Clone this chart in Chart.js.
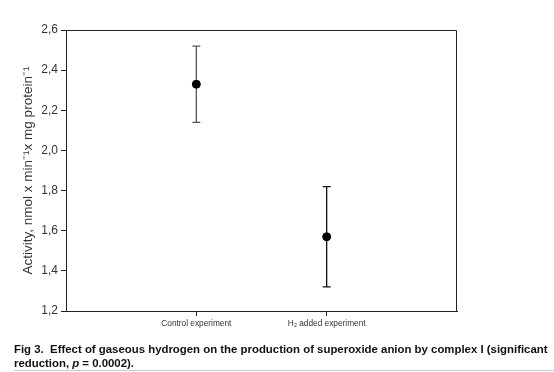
<!DOCTYPE html>
<html>
<head>
<meta charset="utf-8">
<script src="https://cdn.jsdelivr.net/npm/chart.js@4.4.1/dist/chart.umd.min.js"></script>
<style>
  html, body { margin: 0; padding: 0; background: #fff; }
  #wrap { position: relative; width: 554px; height: 372px; overflow: hidden; }
  #chart { position: absolute; left: 0; top: 0; }
  #caption {
    position: absolute; left: 14px; top: 342px; width: 540px; height: 28px;
    font: bold 11.4px Arial, "Liberation Sans", sans-serif; line-height: 14px;
    color: #111; white-space: nowrap; border-bottom: 1px solid #c8c8c8;
  }
</style>
</head>
<body>
<div id="wrap">
  <canvas id="chart" width="554" height="372"></canvas>
  <div id="caption">Fig 3.&nbsp; Effect of gaseous hydrogen on the production of superoxide anion by complex I (significant<br>reduction, <i>p</i> = 0.0002).</div>
</div>
<script>
// dados
const categories = ['Control experiment', 'H\u2082 added experiment'];
const means = [2.33, 1.57];
const errHigh = [2.52, 1.82];
const errLow = [2.14, 1.32];
const barColors = ['#555555', '#111111'];
const yTicks = [1.2, 1.4, 1.6, 1.8, 2.0, 2.2, 2.4, 2.6];

const FONT = 'Arial, "Liberation Sans", sans-serif';

// barras de erro + moldura superior/direita
const errorBars = {
  id: 'errorBars',
  beforeDatasetsDraw(chart) {
    const ctx = chart.ctx;
    const xs = chart.scales.x;
    const ys = chart.scales.y;
    ctx.save();
    ctx.lineWidth = 1.3;
    means.forEach((m, i) => {
      const x = xs.getPixelForValue(i + 1);
      const yt = ys.getPixelForValue(errHigh[i]);
      const yb = ys.getPixelForValue(errLow[i]);
      ctx.strokeStyle = barColors[i];
      ctx.beginPath();
      ctx.moveTo(x, yt); ctx.lineTo(x, yb);
      ctx.moveTo(x - 4, yt); ctx.lineTo(x + 4, yt);
      ctx.moveTo(x - 4, yb); ctx.lineTo(x + 4, yb);
      ctx.stroke();
    });
    ctx.restore();
  },
  afterDraw(chart) {
    const a = chart.chartArea;
    const ctx = chart.ctx;
    ctx.save();
    ctx.strokeStyle = '#222';
    ctx.lineWidth = 1;
    ctx.beginPath();
    ctx.moveTo(a.left, a.top + 0.5);
    ctx.lineTo(a.right - 0.5, a.top + 0.5);
    ctx.lineTo(a.right - 0.5, a.bottom);
    ctx.stroke();
    ctx.restore();
  }
};

new Chart(document.getElementById('chart'), {
  type: 'scatter',
  data: {
    datasets: [{
      data: means.map((v, i) => ({ x: i + 1, y: v })),
      backgroundColor: '#000',
      borderColor: '#000',
      pointRadius: 4,
      pointHoverRadius: 4
    }]
  },
  options: {
    responsive: false,
    animation: false,
    events: [],
    layout: { padding: { top: 30, right: 97, left: 0, bottom: 31 } },
    plugins: { legend: { display: false }, tooltip: { enabled: false } },
    scales: {
      x: {
        type: 'linear',
        min: 0,
        max: 3,
        afterBuildTicks: (scale) => { scale.ticks = [{ value: 1 }, { value: 2 }]; },
        afterFit: (scale) => { scale.height = 30; },
        ticks: {
          callback: (v) => categories[v - 1] || '',
          font: { family: FONT, size: 8.3 },
          color: '#333',
          padding: 3,
          maxRotation: 0,
          autoSkip: false
        },
        grid: { drawOnChartArea: false, drawTicks: true, tickLength: 5, color: '#222' },
        border: { color: '#222', width: 1 }
      },
      y: {
        min: 1.2,
        max: 2.6,
        afterBuildTicks: (scale) => { scale.ticks = yTicks.map(v => ({ value: v })); },
        afterFit: (scale) => { scale.width = 66; },
        ticks: {
          callback: (v) => v.toFixed(1).replace('.', ','),
          font: { family: FONT, size: 12 },
          color: '#333',
          padding: 3
        },
        grid: { drawOnChartArea: false, drawTicks: true, tickLength: 5, color: '#222' },
        border: { color: '#222', width: 1 },
        title: {
          display: true,
          text: 'Activity, nmol x min\u207B\u00B9x mg protein\u207B\u00B9',
          font: { family: FONT, size: 13.5 },
          color: '#333',
          padding: { top: 20, bottom: 0 }
        }
      }
    }
  },
  plugins: [errorBars]
});
</script>
</body>
</html>
